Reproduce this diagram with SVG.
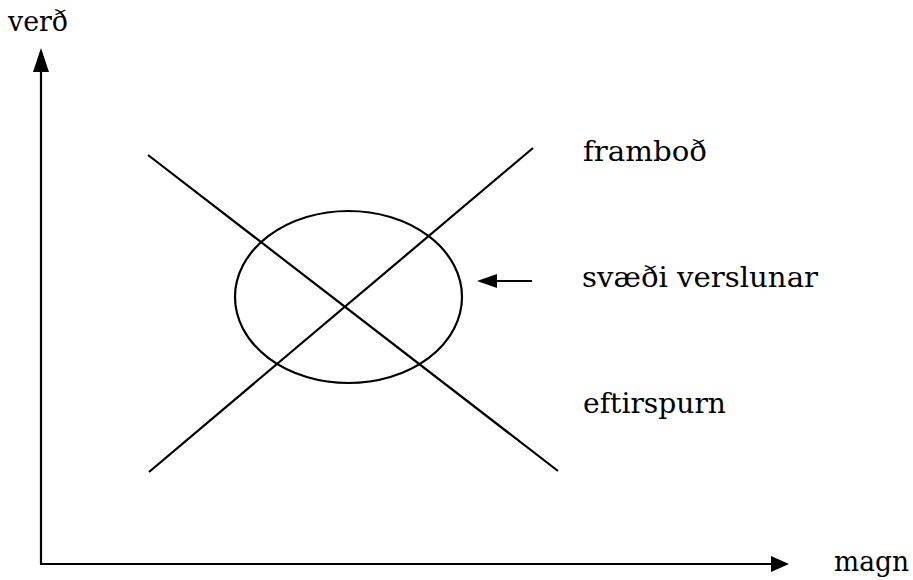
<svg xmlns="http://www.w3.org/2000/svg" width="913" height="580" viewBox="0 0 913 580">
<style>
.ln{stroke:#000;stroke-width:2.2;fill:none}
</style>
<rect width="913" height="580" fill="#fff"/>
<g id="connectors">
<line class="ln" x1="41" y1="564" x2="41" y2="70"/>
<polygon points="41,48 33,72 49,72" fill="#000"/>
<line class="ln" x1="40" y1="564" x2="772" y2="564"/>
<polygon points="789,564 771,556 771,572" fill="#000"/>
<line class="ln" x1="148" y1="155" x2="558" y2="471"/>
<line class="ln" x1="149" y1="472" x2="533" y2="148"/>
<line class="ln" x1="532" y1="281" x2="494" y2="281"/>
<polygon points="477,281 497,274 497,288" fill="#000"/>
</g>
<g id="area"><ellipse class="ln" cx="348.5" cy="297" rx="113.5" ry="86"/></g>
<g font-family="DejaVu Serif, Liberation Serif, serif" font-size="27" fill="#000">
<g id="label-verd"><text x="8" y="31" textLength="60" lengthAdjust="spacingAndGlyphs">verð</text></g>
<g id="label-magn"><text x="834" y="571" textLength="75" lengthAdjust="spacingAndGlyphs">magn</text></g>
<g id="label-frambod"><text x="583" y="161" textLength="124" lengthAdjust="spacingAndGlyphs">framboð</text></g>
<g id="label-svaedi"><text x="582" y="287" textLength="236" lengthAdjust="spacingAndGlyphs">svæði verslunar</text></g>
<g id="label-eftirspurn"><text x="583" y="413" textLength="143" lengthAdjust="spacingAndGlyphs">eftirspurn</text></g>
</g>
</svg>
